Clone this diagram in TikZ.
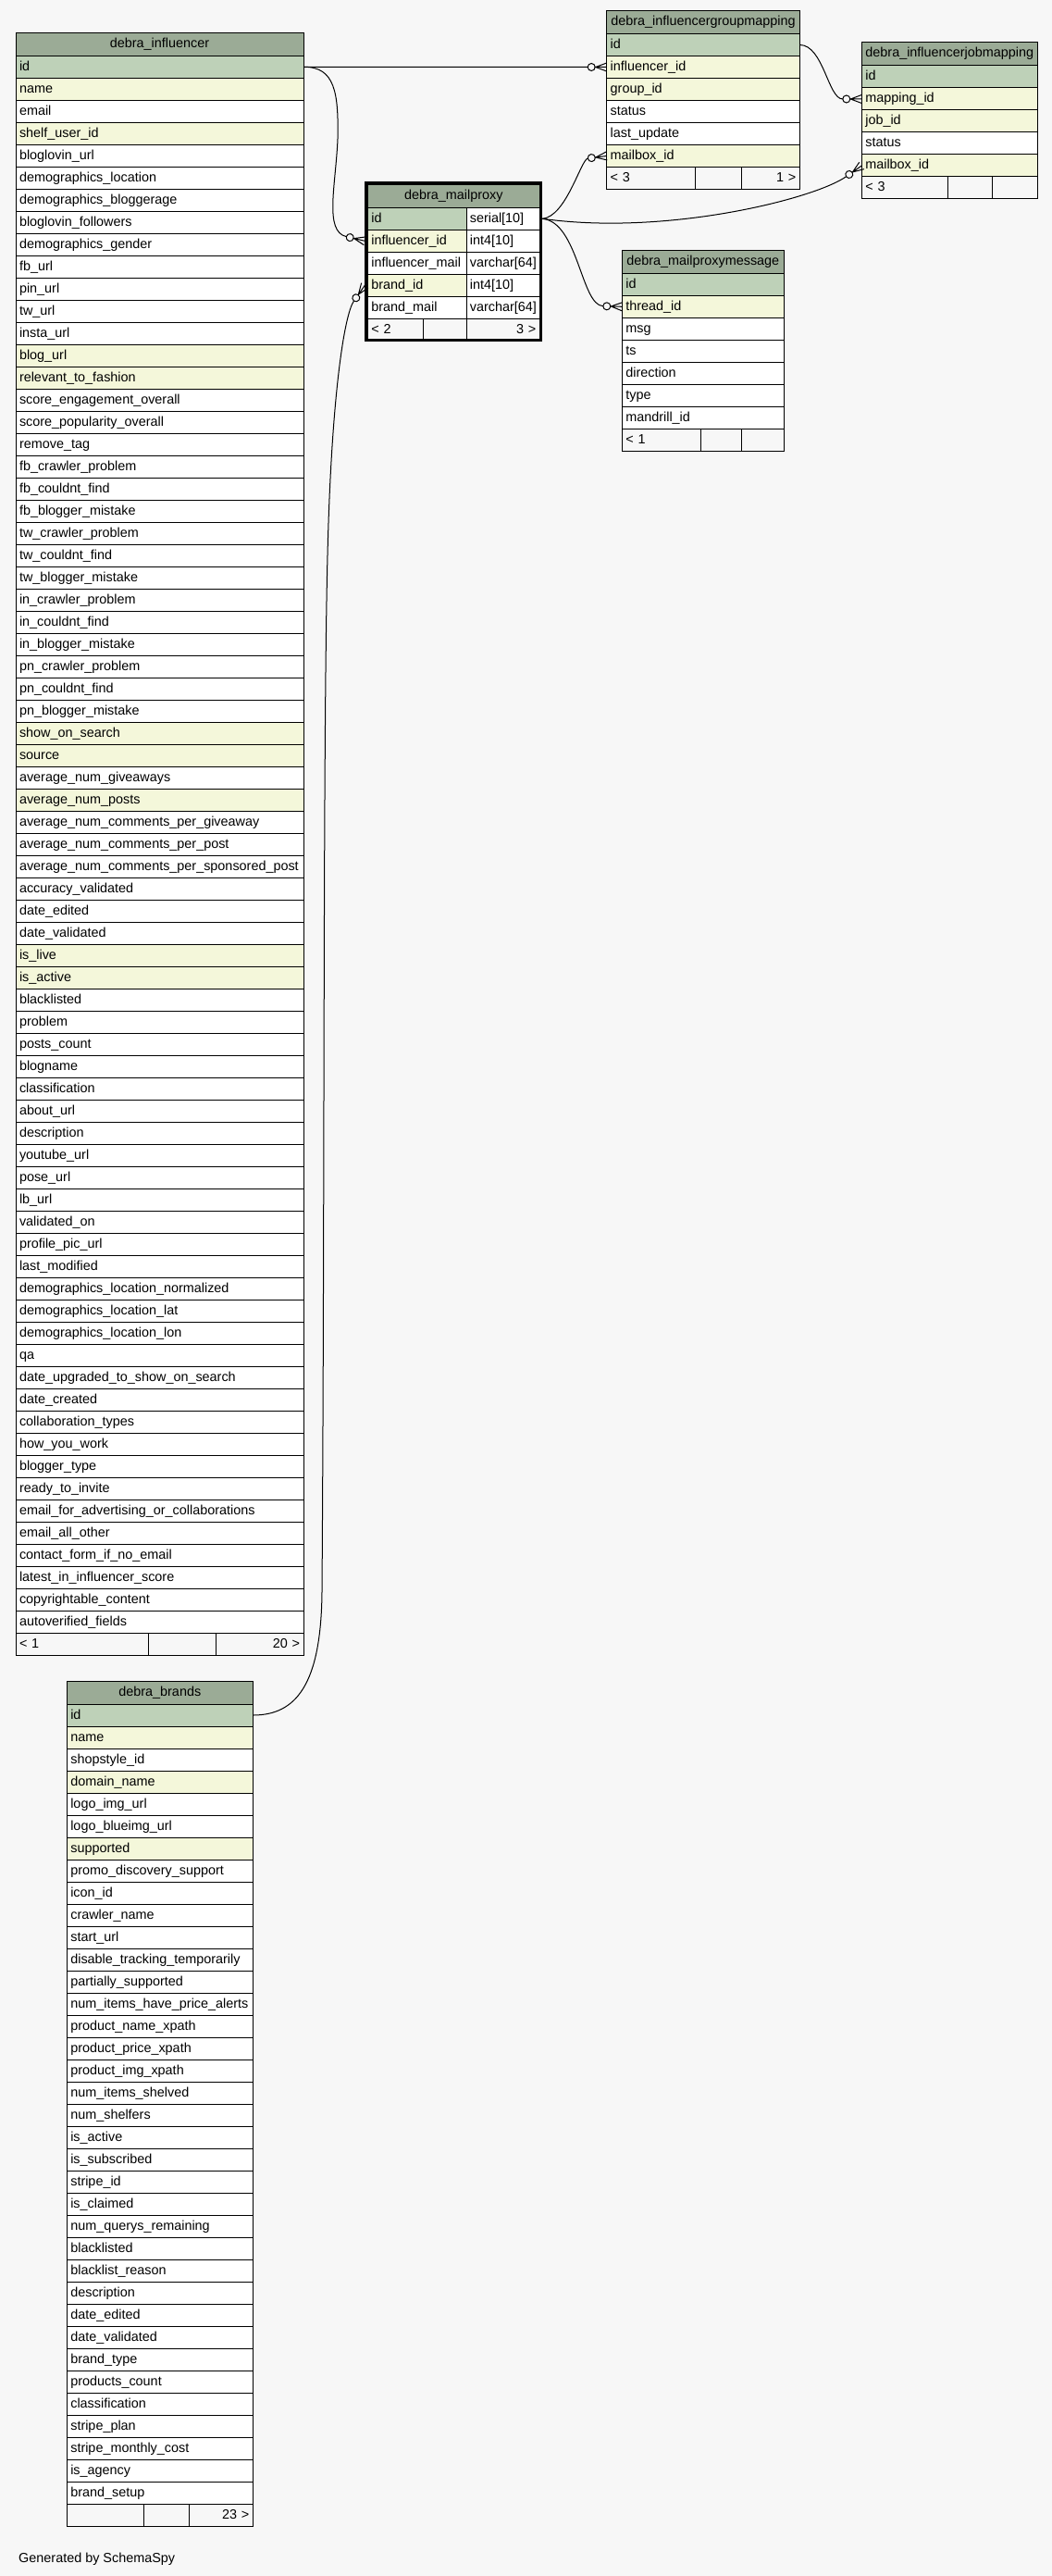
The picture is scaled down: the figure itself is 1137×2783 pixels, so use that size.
\documentclass[tikz,border=0pt]{standalone}
\usepackage{fontspec}
\setmainfont{Liberation Sans}
\usetikzlibrary{arrows.meta,positioning}
\hyphenpenalty=10000
\exhyphenpenalty=10000

\definecolor{bgcol}{HTML}{F7F7F7}
\definecolor{headcol}{HTML}{9BAB96}
\definecolor{pkcol}{HTML}{BED1B8}
\definecolor{ixcol}{HTML}{F4F7DA}

\newcommand{\cellfont}{\fontsize{14.4}{16}\selectfont}

% crow's foot with open circle
\pgfdeclarearrow{
  name = CrowOdot,
  setup code = {
    \pgfarrowssettipend{0pt}
    \pgfarrowssetlineend{-20.5pt}
    \pgfarrowssetvisualbackend{-20.5pt}
    \pgfarrowssetbackend{-20.5pt}
    \pgfarrowshullpoint{0pt}{5pt}
    \pgfarrowshullpoint{0pt}{-5pt}
    \pgfarrowshullpoint{-20.5pt}{4pt}
    \pgfarrowshullpoint{-20.5pt}{-4pt}
  },
  drawing code = {
    \pgfpathmoveto{\pgfqpoint{0pt}{4.5pt}}
    \pgfpathlineto{\pgfqpoint{-12pt}{0pt}}
    \pgfpathlineto{\pgfqpoint{0pt}{-4.5pt}}
    \pgfpathmoveto{\pgfqpoint{0pt}{0pt}}
    \pgfpathlineto{\pgfqpoint{-12.5pt}{0pt}}
    \pgfusepathqstroke
    \pgfpathcircle{\pgfqpoint{-16.5pt}{0pt}}{4pt}
    \pgfusepathqstroke
  },
}

\begin{document}
\begin{tikzpicture}[
    x=1pt, y=-1pt,
    cell/.style={draw, line width=1pt, anchor=north west, outer sep=0pt,
        minimum height=24pt, inner xsep=4pt, inner ysep=0pt,
        text height=10pt, text depth=2pt, align=left, font=\cellfont},
    pkcell/.style={cell, fill=pkcol},
    ixcell/.style={cell, fill=ixcol},
    plcell/.style={cell, fill=white},
    head/.style={cell, fill=headcol, minimum height=25pt, align=center, text depth=3pt},
    foot/.style={cell, fill=bgcol},
    fk/.style={-{CrowOdot}, line width=1pt},
]
\path[use as bounding box, fill=bgcol] (0,0) rectangle (1137,2783);

% debra_influencer
\node[head, text width=303pt] (inf-h) at (17,35.3) {debra\_influencer};
\foreach \t/\s [count=\i] in {
    id/pkcell, name/ixcell, email/plcell, shelf\_user\_id/ixcell,
    bloglovin\_url/plcell, demographics\_location/plcell,
    demographics\_bloggerage/plcell, bloglovin\_followers/plcell,
    demographics\_gender/plcell, fb\_url/plcell, pin\_url/plcell,
    tw\_url/plcell, insta\_url/plcell, blog\_url/ixcell,
    relevant\_to\_fashion/ixcell, score\_engagement\_overall/plcell,
    score\_popularity\_overall/plcell, remove\_tag/plcell,
    fb\_crawler\_problem/plcell, fb\_couldnt\_find/plcell,
    fb\_blogger\_mistake/plcell, tw\_crawler\_problem/plcell,
    tw\_couldnt\_find/plcell, tw\_blogger\_mistake/plcell,
    in\_crawler\_problem/plcell, in\_couldnt\_find/plcell,
    in\_blogger\_mistake/plcell, pn\_crawler\_problem/plcell,
    pn\_couldnt\_find/plcell, pn\_blogger\_mistake/plcell,
    show\_on\_search/ixcell, source/ixcell, average\_num\_giveaways/plcell,
    average\_num\_posts/ixcell, average\_num\_comments\_per\_giveaway/plcell,
    average\_num\_comments\_per\_post/plcell,
    average\_num\_comments\_per\_sponsored\_post/plcell,
    accuracy\_validated/plcell, date\_edited/plcell, date\_validated/plcell,
    is\_live/ixcell, is\_active/ixcell, blacklisted/plcell, problem/plcell,
    posts\_count/plcell, blogname/plcell, classification/plcell,
    about\_url/plcell, description/plcell, youtube\_url/plcell,
    pose\_url/plcell, lb\_url/plcell, validated\_on/plcell,
    profile\_pic\_url/plcell, last\_modified/plcell,
    demographics\_location\_normalized/plcell,
    demographics\_location\_lat/plcell, demographics\_location\_lon/plcell,
    qa/plcell, date\_upgraded\_to\_show\_on\_search/plcell,
    date\_created/plcell, collaboration\_types/plcell, how\_you\_work/plcell,
    blogger\_type/plcell, ready\_to\_invite/plcell,
    email\_for\_advertising\_or\_collaborations/plcell,
    email\_all\_other/plcell, contact\_form\_if\_no\_email/plcell,
    latest\_in\_influencer\_score/plcell, copyrightable\_content/plcell,
    autoverified\_fields/plcell} {
    \node[\s, text width=303pt] (inf-\i) at (17,{60.3+(\i-1)*24}) {\t};
}
\node[foot, text width=135.7pt] (inf-fl) at (17,1764.3) {< 1};
\node[foot, text width=65pt] (inf-fm) at (inf-fl.north east) {};
\node[foot, text width=86.3pt, align=right] (inf-fr) at (inf-fm.north east) {20 >};

% debra_brands
\node[head, text width=193pt] (br-h) at (72.3,1816) {debra\_brands};
\foreach \t/\s [count=\i] in {
    id/pkcell, name/ixcell, shopstyle\_id/plcell, domain\_name/ixcell,
    logo\_img\_url/plcell, logo\_blueimg\_url/plcell, supported/ixcell,
    promo\_discovery\_support/plcell, icon\_id/plcell, crawler\_name/plcell,
    start\_url/plcell, disable\_tracking\_temporarily/plcell,
    partially\_supported/plcell, num\_items\_have\_price\_alerts/plcell,
    product\_name\_xpath/plcell, product\_price\_xpath/plcell,
    product\_img\_xpath/plcell, num\_items\_shelved/plcell,
    num\_shelfers/plcell, is\_active/plcell, is\_subscribed/plcell,
    stripe\_id/plcell, is\_claimed/plcell, num\_querys\_remaining/plcell,
    blacklisted/plcell, blacklist\_reason/plcell, description/plcell,
    date\_edited/plcell, date\_validated/plcell, brand\_type/plcell,
    products\_count/plcell, classification/plcell, stripe\_plan/plcell,
    stripe\_monthly\_cost/plcell, is\_agency/plcell, brand\_setup/plcell} {
    \node[\s, text width=193pt] (br-\i) at (72.3,{1841+(\i-1)*24}) {\t};
}
\node[foot, text width=75pt] (br-fl) at (72.3,2705) {};
\node[foot, text width=41pt] (br-fm) at (br-fl.north east) {};
\node[foot, text width=61pt, align=right] (br-fr) at (br-fm.north east) {23 >};

% debra_mailproxy
\node[head, text width=178pt] (mp-h) at (397.3,199.3) {debra\_mailproxy};
\foreach \t/\s/\d [count=\i] in {
    id/pkcell/serial[10], influencer\_id/ixcell/int4[10],
    influencer\_mail/plcell/varchar[64], brand\_id/ixcell/int4[10],
    brand\_mail/plcell/varchar[64]} {
    \node[\s, text width=99pt] (mp-\i) at (397.3,{224.3+(\i-1)*24}) {\t};
    \node[plcell, text width=72pt, inner xsep=3.5pt] (mpt-\i) at (mp-\i.north east) {\d};
}
\node[foot, text width=52pt] (mp-fl) at (397.3,344.3) {< 2};
\node[foot, text width=39pt] (mp-fm) at (mp-fl.north east) {};
\node[foot, text width=71pt, align=right] (mp-fr) at (mp-fm.north east) {3 >};
\draw[line width=3pt] ([xshift=-1.8pt,yshift=1.8pt]mp-h.north west)
    rectangle ([xshift=1.2pt,yshift=0.5pt]mp-fr.south east);

% debra_influencergroupmapping
\node[head, text width=200.6pt] (grp-h) at (655.7,11.5) {debra\_influencergroupmapping};
\foreach \t/\s [count=\i] in {
    id/pkcell, influencer\_id/ixcell, group\_id/ixcell, status/plcell,
    last\_update/plcell, mailbox\_id/ixcell} {
    \node[\s, text width=200.6pt] (grp-\i) at (655.7,{36.5+(\i-1)*24}) {\t};
}
\node[foot, text width=87.6pt] (grp-fl) at (655.7,180.5) {< 3};
\node[foot, text width=42pt] (grp-fm) at (grp-fl.north east) {};
\node[foot, text width=55pt, align=right] (grp-fr) at (grp-fm.north east) {1 >};

% debra_influencerjobmapping
\node[head, text width=182pt] (job-h) at (931.3,46) {debra\_influencerjobmapping};
\foreach \t/\s [count=\i] in {
    id/pkcell, mapping\_id/ixcell, job\_id/ixcell, status/plcell,
    mailbox\_id/ixcell} {
    \node[\s, text width=182pt] (job-\i) at (931.3,{71+(\i-1)*24}) {\t};
}
\node[foot, text width=85pt] (job-fl) at (931.3,191) {< 3};
\node[foot, text width=40pt] (job-fm) at (job-fl.north east) {};
\node[foot, text width=41pt] (job-fr) at (job-fm.north east) {};

% debra_mailproxymessage
\node[head, text width=167pt] (msg-h) at (672.3,270.3) {debra\_mailproxymessage};
\foreach \t/\s [count=\i] in {
    id/pkcell, thread\_id/ixcell, msg/plcell, ts/plcell, direction/plcell,
    type/plcell, mandrill\_id/plcell} {
    \node[\s, text width=167pt] (msg-\i) at (672.3,{295.3+(\i-1)*24}) {\t};
}
\node[foot, text width=77pt] (msg-fl) at (672.3,463.3) {< 1};
\node[foot, text width=36pt] (msg-fm) at (msg-fl.north east) {};
\node[foot, text width=38pt] (msg-fr) at (msg-fm.north east) {};

% Foreign keys
\draw[fk] (inf-1.east) -- (grp-2.west);
\draw[fk] (inf-1.east) .. controls (362,72) and (366,100) .. (365,150)
    .. controls (363,200) and (350,250) .. ([xshift=-3pt]mp-2.west);
\draw[fk] (br-1.east) .. controls (320,1853) and (347,1820) .. (348,1720)
    .. controls (351,1300) and (349,800) .. (354,600)
    .. controls (358,430) and (372,340) .. ([xshift=-3pt]mp-4.west);
\draw[fk] (grp-1.east) .. controls (890,48.5) and (895,107) .. (job-2.west);
\draw[fk] ([xshift=3pt]mpt-1.east) .. controls (612,234) and (628,172) .. (grp-6.west);
\draw[fk] ([xshift=3pt]mpt-1.east) .. controls (720,255) and (880,215) .. (job-5.west);
\draw[fk] ([xshift=3pt]mpt-1.east) .. controls (625,240) and (628,330) .. (msg-2.west);

\node[anchor=base west, font=\cellfont] (gen) at (16.7,2768) {Generated by SchemaSpy};
\end{tikzpicture}
\end{document}
